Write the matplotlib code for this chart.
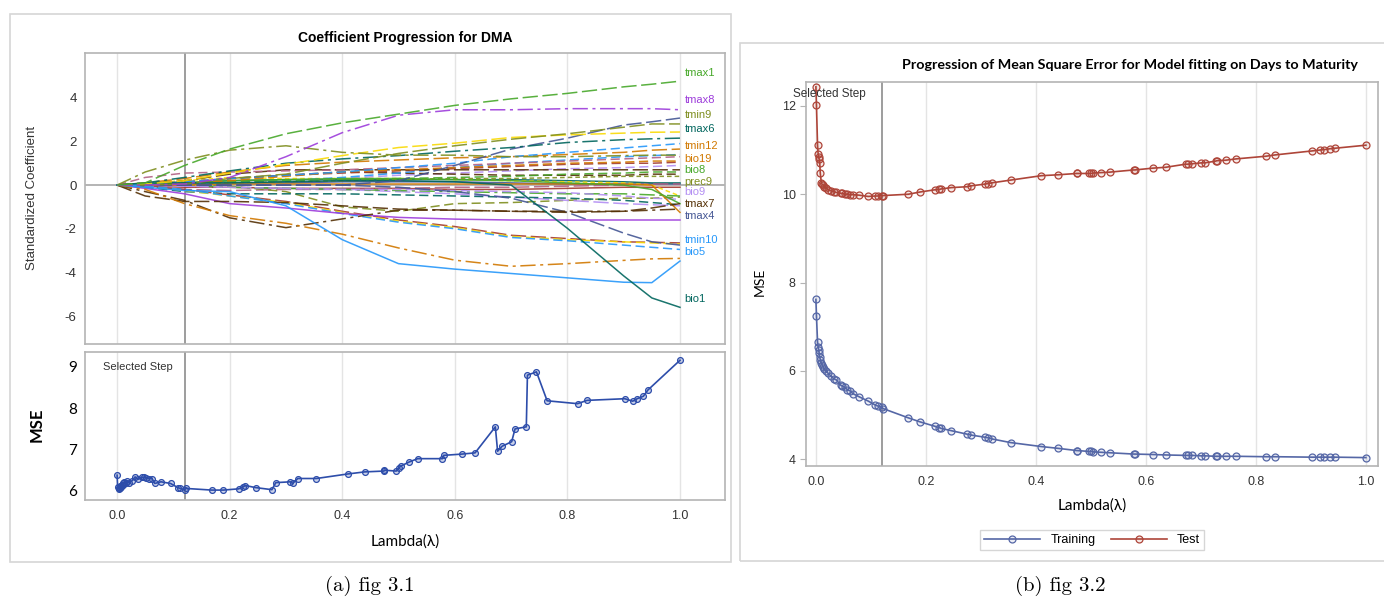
"""Two LASSO diagnostics side by side: coefficient paths + MSE for DMA (a),
training/test MSE progression for days to maturity (b)."""

import matplotlib

matplotlib.use("Agg")
import matplotlib.pyplot as plt
from matplotlib.patches import Rectangle

plt.rcParams["axes.unicode_minus"] = False

W, H = 1384, 601

# ---- shared lambda grid of the selection path --------------------------------
lambdas = [
    0.0, 0.001, 0.003, 0.004, 0.005, 0.006, 0.007, 0.008, 0.010, 0.011,
    0.013, 0.015, 0.018, 0.022, 0.027, 0.032, 0.037, 0.045, 0.048, 0.052,
    0.057, 0.062, 0.067, 0.078, 0.095, 0.108, 0.112, 0.120, 0.122, 0.168,
    0.189, 0.216, 0.224, 0.228, 0.246, 0.275, 0.282, 0.308, 0.312, 0.321,
    0.354, 0.410, 0.440, 0.474, 0.475, 0.496, 0.500, 0.504, 0.519, 0.534,
    0.578, 0.580, 0.612, 0.636, 0.672, 0.676, 0.684, 0.701, 0.707, 0.727,
    0.729, 0.745, 0.764, 0.818, 0.835, 0.902, 0.916, 0.924, 0.935, 0.943,
    1.0,
]

dma_mse = [
    6.38, 6.10, 6.08, 6.05, 6.12, 6.06, 6.10, 6.15, 6.20, 6.15,
    6.22, 6.20, 6.23, 6.20, 6.25, 6.34, 6.28, 6.33, 6.33, 6.32,
    6.30, 6.30, 6.18, 6.22, 6.18, 6.08, 6.06, 6.03, 6.06, 6.02,
    6.02, 6.05, 6.10, 6.13, 6.08, 6.03, 6.20, 6.22, 6.18, 6.30,
    6.30, 6.41, 6.46, 6.48, 6.50, 6.48, 6.55, 6.60, 6.70, 6.78,
    6.78, 6.86, 6.89, 6.92, 7.55, 6.96, 7.08, 7.19, 7.50, 7.55,
    8.80, 8.88, 8.18, 8.11, 8.19, 8.23, 8.17, 8.23, 8.29, 8.44,
    9.16,
]

train_mse = [
    7.62, 7.25, 6.66, 6.55, 6.48, 6.40, 6.31, 6.26, 6.17, 6.14,
    6.10, 6.05, 6.01, 5.95, 5.89, 5.83, 5.80, 5.68, 5.66, 5.63,
    5.58, 5.55, 5.49, 5.42, 5.32, 5.23, 5.21, 5.18, 5.15, 4.94,
    4.85, 4.75, 4.72, 4.70, 4.65, 4.57, 4.55, 4.50, 4.49, 4.46,
    4.38, 4.29, 4.25, 4.20, 4.20, 4.18, 4.18, 4.17, 4.16, 4.15,
    4.12, 4.12, 4.11, 4.10, 4.09, 4.09, 4.09, 4.08, 4.08, 4.07,
    4.07, 4.07, 4.07, 4.06, 4.06, 4.05, 4.05, 4.05, 4.05, 4.05,
    4.04,
]

test_mse = [
    12.43, 12.02, 11.11, 10.92, 10.85, 10.79, 10.70, 10.47, 10.25, 10.23,
    10.21, 10.17, 10.14, 10.10, 10.08, 10.06, 10.04, 10.02, 10.02, 10.00,
    10.00, 9.99, 9.99, 9.98, 9.95, 9.96, 9.96, 9.97, 9.97, 10.00,
    10.05, 10.10, 10.11, 10.12, 10.15, 10.17, 10.19, 10.23, 10.24, 10.26,
    10.32, 10.42, 10.44, 10.47, 10.47, 10.47, 10.47, 10.48, 10.49, 10.50,
    10.55, 10.55, 10.59, 10.61, 10.68, 10.68, 10.69, 10.71, 10.71, 10.75,
    10.76, 10.77, 10.80, 10.86, 10.89, 10.98, 11.00, 11.01, 11.03, 11.04,
    11.11,
]

selected_lambda = 0.12

# ---- coefficient paths, read at these lambda knots -----------------------------
knots = [0, 0.05, 0.12, 0.2, 0.3, 0.4, 0.5, 0.6, 0.7, 0.8, 0.9, 0.95, 1.0]

coef_tmax1 = [0, 0.1, 0.9, 1.65, 2.35, 2.85, 3.25, 3.65, 3.95, 4.2, 4.5, 4.62, 4.76]
coef_tmax8 = [0, 0, 0.05, 0.35, 1.3, 2.4, 3.2, 3.45, 3.45, 3.5, 3.5, 3.5, 3.45]
coef_v03 = [0, 0.6, 1.14, 1.6, 1.8, 1.5, 1.37, 1.37, 1.3, 1.3, 1.35, 1.37, 1.37]
coef_tmin9 = [0, 0, 0.05, 0.3, 0.5, 1.0, 1.45, 1.8, 2.1, 2.35, 2.65, 2.8, 2.8]
coef_v05 = [0, 0.05, 0.2, 0.55, 0.95, 1.35, 1.72, 1.92, 2.18, 2.3, 2.38, 2.42, 2.43]
coef_tmax6 = [0, 0.1, 0.35, 0.65, 1.0, 1.2, 1.35, 1.55, 1.72, 1.95, 2.08, 2.12, 2.15]
coef_v07 = [0, 0, 0, 0, 0, 0, 0.2, 0.9, 1.65, 2.15, 2.75, 2.9, 3.07]
coef_bio1 = [0, 0.1, 0.1, 0.1, 0.15, 0.2, 0.2, 0.15, 0.0, -1.98, -4.16, -5.17, -5.6]
coef_bio5 = [0, -0.1, -0.25, -0.3, -0.95, -2.5, -3.6, -3.85, -4.05, -4.25, -4.45, -4.47, -3.48]
coef_v10 = [0, -0.2, -0.85, -1.4, -1.75, -2.25, -2.88, -3.44, -3.72, -3.6, -3.45, -3.38, -3.36]
coef_v11 = [0, -0.3, -0.7, -1.5, -1.95, -1.55, -1.15, -1.15, -1.2, -1.2, -1.2, -1.15, -1.1]
coef_tmax7 = [0, -0.5, -0.75, -0.75, -0.8, -0.95, -1.1, -1.15, -1.2, -1.25, -1.2, -1.05, -0.85]
coef_v13 = [0, -0.15, -0.4, -0.85, -1.05, -1.3, -1.48, -1.56, -1.6, -1.6, -1.6, -1.6, -1.6]
coef_v14 = [0, -0.05, -0.2, -0.45, -0.75, -1.2, -1.6, -1.9, -2.3, -2.45, -2.6, -2.62, -2.65]
coef_v15 = [0, -0.05, -0.25, -0.5, -0.8, -1.25, -1.65, -1.95, -2.35, -2.5, -2.6, -2.65, -2.7]
coef_tmin10 = [0, -0.05, -0.2, -0.5, -0.85, -1.3, -1.7, -2.0, -2.4, -2.55, -2.75, -2.85, -2.95]
coef_tmax4 = [0, 0, 0, 0, 0, 0, -0.1, -0.3, -0.6, -1.25, -2.2, -2.6, -2.75]
coef_v18 = [0, 0.05, 0.15, 0.3, 0.45, 0.6, 0.8, 1.0, 1.3, 1.5, 1.7, 1.8, 1.9]
coef_tmin12 = [0, 0.1, 0.3, 0.6, 0.9, 1.05, 1.15, 1.25, 1.3, 1.4, 1.5, 1.6, 1.65]
coef_v20 = [0, 0.35, 0.55, 0.6, 0.65, 0.7, 0.8, 0.9, 1.0, 1.1, 1.2, 1.25, 1.3]
coef_bio19 = [0, 0.05, 0.1, 0.2, 0.4, 0.6, 0.7, 0.8, 0.9, 1.0, 1.05, 1.1, 1.1]
coef_v22 = [0, 0.05, 0.2, 0.5, 0.7, 0.7, 0.7, 0.7, 0.7, 0.7, 0.7, 0.7, 0.7]
coef_bio8 = [0, 0.05, 0.1, 0.15, 0.2, 0.25, 0.3, 0.35, 0.4, 0.5, 0.55, 0.6, 0.6]
coef_prec9 = [0, 0.02, 0.05, 0.1, 0.15, 0.2, 0.25, 0.3, 0.3, 0.35, 0.4, 0.4, 0.4]
coef_bio9 = [0, 0, -0.05, -0.1, -0.15, -0.2, -0.2, -0.25, -0.3, -0.35, -0.5, -0.6, -0.65]
coef_v26 = [0, -0.1, -0.3, -0.4, -0.4, -0.4, -0.45, -0.5, -0.55, -0.6, -0.7, -0.8, -0.9]
coef_v27 = [0, 0, 0, 0.05, 0.05, 0.05, 0.05, 0.05, 0.05, 0.05, 0.05, 0, -1.25]
coef_v28 = [0, 0.05, 0.1, 0.2, 0.25, 0.3, 0.3, 0.25, 0.2, 0.1, 0, -0.2, -0.85]
coef_v29 = [0, -0.05, -0.1, -0.1, -0.15, -0.15, -0.15, -0.2, -0.2, -0.15, -0.1, -0.1, -0.1]
coef_v30 = [0, 0.05, 0.05, 0.1, 0.1, 0.15, 0.15, 0.15, 0.1, 0.05, 0.05, 0.05, 0.05]
coef_v31 = [0, 0.05, 0.1, 0.2, 0.25, 0.25, 0.25, 0.25, 0.25, 0.2, 0.15, 0.1, 0.1]
coef_v32 = [0, -0.1, -0.2, -0.25, -0.2, -0.2, -0.15, -0.1, -0.1, -0.05, 0, 0.05, 0.05]
coef_v33 = [0, 0.02, 0.05, 0.1, 0.2, 0.3, 0.45, 0.55, 0.65, 0.75, 0.8, 0.85, 0.9]
coef_v34 = [0, 0.1, 0.2, 0.35, 0.3, 0.3, 0.3, 0.25, 0.2, 0.15, 0.1, 0.0, -0.5]
coef_v35 = [0, 0.05, 0.1, 0.3, 0.45, 0.6, 0.55, 0.5, 0.45, 0.45, 0.45, 0.5, 0.5]
coef_v36 = [0, 0, 0, -0.05, -0.3, -1.0, -1.2, -0.85, -0.8, -0.7, -0.6, -0.6, -0.55]
coef_v37 = [0, 0, -0.05, -0.1, -0.15, -0.2, -0.3, -0.4, -0.55, -0.7, -0.85, -0.9, -0.95]
coef_v38 = [0, 0, 0.05, 0.1, 0.2, 0.35, 0.55, 0.8, 1.0, 1.15, 1.3, 1.35, 1.4]
coef_v39 = [0, 0.05, 0.15, 0.3, 0.45, 0.55, 0.65, 0.75, 0.85, 0.95, 1.0, 1.0, 1.05]
coef_v40 = [0, 0, 0, -0.1, -0.15, -0.2, -0.25, -0.3, -0.35, -0.4, -0.4, -0.45, -0.5]

end_labels = ["tmax1", "tmax8", "tmin9", "tmax6", "tmin12", "bio19", "bio8",
              "prec9", "bio9", "tmax7", "tmax4", "tmin10", "bio5", "bio1"]
end_label_y = [5.13, 3.89, 3.21, 2.56, 1.79, 1.18, 0.68,
               0.16, -0.32, -0.86, -1.40, -2.52, -3.07, -5.22]

# SAS-style palette and line patterns
BLUE, RED, TEAL, BROWN = "#445694", "#A23A2E", "#01665E", "#543005"
PURPLE, OLIVE, LTBLUE, PINK = "#9D3CDB", "#7F8E1F", "#2597FA", "#B26084"
ORANGE, GREEN, LAVENDER, YELLOW = "#D17800", "#47A82A", "#B38EF3", "#F9DA04"

SOLID = "-"
SHORT = (0, (3, 2))
MEDIUM = (0, (6, 3))
LONG = (0, (10, 3))
DASHDOT = (0, (10, 3, 2, 3))

end_label_colors = [GREEN, PURPLE, OLIVE, TEAL, ORANGE, ORANGE, GREEN,
                    OLIVE, LAVENDER, BROWN, BLUE, LTBLUE, LTBLUE, TEAL]

paths = [
    (coef_v29, RED, SOLID), (coef_v30, BLUE, SOLID), (coef_v31, TEAL, SOLID),
    (coef_v32, PINK, LONG), (coef_v33, LAVENDER, MEDIUM), (coef_v34, YELLOW, SHORT),
    (coef_v35, BROWN, MEDIUM), (coef_v36, OLIVE, MEDIUM), (coef_v37, LAVENDER, LONG),
    (coef_v38, LTBLUE, MEDIUM), (coef_v39, RED, MEDIUM), (coef_v40, GREEN, DASHDOT),
    (coef_prec9, OLIVE, SHORT), (coef_bio8, GREEN, MEDIUM), (coef_bio9, LAVENDER, MEDIUM),
    (coef_v26, TEAL, MEDIUM), (coef_v27, ORANGE, SOLID), (coef_v28, GREEN, SOLID),
    (coef_v22, BROWN, LONG), (coef_bio19, ORANGE, MEDIUM), (coef_v20, PINK, MEDIUM),
    (coef_tmin12, ORANGE, LONG), (coef_v18, LTBLUE, MEDIUM),
    (coef_v14, RED, LONG), (coef_v15, YELLOW, MEDIUM), (coef_tmin10, LTBLUE, MEDIUM),
    (coef_tmax4, BLUE, LONG), (coef_v13, PURPLE, SOLID), (coef_tmax7, BROWN, LONG),
    (coef_v11, BROWN, DASHDOT), (coef_v10, ORANGE, DASHDOT), (coef_bio5, LTBLUE, SOLID),
    (coef_bio1, TEAL, SOLID), (coef_v07, BLUE, LONG), (coef_tmax6, TEAL, DASHDOT),
    (coef_v05, YELLOW, LONG), (coef_tmin9, OLIVE, LONG), (coef_v03, OLIVE, DASHDOT),
    (coef_tmax8, PURPLE, DASHDOT), (coef_tmax1, GREEN, LONG),
]

FRAME = "#B4B4B4"
GRID = "#E4E4E4"
SEL = "#8C8C8C"
SANS = ["Liberation Sans", "DejaVu Sans"]
CAL = ["Lato", "DejaVu Sans"]


def fig_box(x0, y0, x1, y1):
    return [x0 / W, 1 - y1 / H, (x1 - x0) / W, (y1 - y0) / H]


def style_axes(ax):
    for sp in ax.spines.values():
        sp.set_color(FRAME)
        sp.set_linewidth(1.2)
    for x in [0.0, 0.2, 0.4, 0.6, 0.8, 1.0]:
        ax.axvline(x, color=GRID, lw=1.0, zorder=0)


fig = plt.figure(figsize=(W / 100, H / 100), dpi=100)

# panel frames
fig.patches.append(Rectangle((10 / W, 1 - 562 / H), 721 / W, 548 / H, transform=fig.transFigure,
                             fill=False, edgecolor="#D6D6D6", lw=1.2))
fig.patches.append(Rectangle((740 / W, 1 - 561 / H), 660 / W, 518 / H, transform=fig.transFigure,
                             fill=False, edgecolor="#D6D6D6", lw=1.2))

# ---- (a) coefficient progression ------------------------------------------------
ax1 = fig.add_axes(fig_box(85, 53, 725, 344))
style_axes(ax1)
ax1.axhline(0, color="#A8A8A8", lw=1.2, zorder=1)
ax1.axvline(selected_lambda, color=SEL, lw=1.2, zorder=1)
for vals, color, ls in paths:
    ax1.plot(knots, vals, color=color, ls=ls, lw=1.1, alpha=0.9, zorder=2)
for name, y, color in zip(end_labels, end_label_y, end_label_colors):
    ax1.text(1.008, y, name, color=color, fontsize=8, family=SANS, va="center", ha="left")
ax1.set_xlim(-0.057, 1.08)
ax1.set_ylim(-7.28, 6.05)
ax1.set_xticks([])
ax1.set_yticks([4, 2, 0, -2, -4, -6])
ax1.tick_params(axis="y", length=0, labelsize=9.5, labelcolor="#333333", pad=6)
for lab in ax1.get_yticklabels():
    lab.set_family(SANS)
ax1.set_title("Coefficient Progression for DMA", fontsize=10, fontweight="bold",
              family=SANS, pad=8)
fig.text(32 / W, 1 - 198 / H, "Standardized Coefficient", rotation=90, fontsize=9.5,
         family=SANS, color="#333333", ha="center", va="center")

ax2 = fig.add_axes(fig_box(85, 352, 725, 500))
style_axes(ax2)
ax2.axvline(selected_lambda, color=SEL, lw=1.2, zorder=1)
ax2.plot(lambdas, dma_mse, color="#2D4DAA", lw=1.2, marker="o", ms=4.2,
         mfc=(0.18, 0.30, 0.67, 0.25), mec="#2D4DAA", mew=0.9, zorder=3)
ax2.text(0.028, 0.93, "Selected Step", transform=ax2.transAxes, fontsize=8,
         family=SANS, color="#333333", va="top")
ax2.set_xlim(-0.057, 1.08)
ax2.set_ylim(5.78, 9.36)
ax2.set_yticks([6, 7, 8, 9])
ax2.set_xticks([0.0, 0.2, 0.4, 0.6, 0.8, 1.0])
ax2.set_xticklabels(["0.0", "0.2", "0.4", "0.6", "0.8", "1.0"])
ax2.tick_params(axis="x", length=0, labelsize=9, labelcolor="#333333", pad=7)
ax2.tick_params(axis="y", length=0, labelsize=11, pad=6)
for lab in ax2.get_xticklabels():
    lab.set_family(SANS)
for lab in ax2.get_yticklabels():
    lab.set_family(CAL)
ax2.set_xlabel("Lambda(λ)", fontsize=11, family=CAL, labelpad=9)
fig.text(37 / W, 1 - 425 / H, "MSE", rotation=90, fontsize=12, fontweight="bold",
         family=CAL, ha="center", va="center")

# ---- (b) MSE progression ---------------------------------------------------------
ax3 = fig.add_axes(fig_box(806, 82, 1378, 466))
style_axes(ax3)
ax3.axvline(selected_lambda, color=SEL, lw=1.2, zorder=1)
ax3.plot(lambdas, train_mse, color="#5567A6", lw=1.2, marker="o", ms=5.0,
         mfc=(0.33, 0.40, 0.65, 0.12), mec="#5567A6", mew=0.9, zorder=3, label="Training")
ax3.plot(lambdas, test_mse, color="#AE4539", lw=1.2, marker="o", ms=5.0,
         mfc=(0.68, 0.27, 0.22, 0.12), mec="#AE4539", mew=0.9, zorder=3, label="Test")
ax3.text(-0.022, 0.985, "Selected Step", transform=ax3.transAxes, fontsize=8.5,
         family=SANS, color="#333333", va="top")
ax3.set_xlim(-0.018, 1.022)
ax3.set_ylim(3.85, 12.54)
ax3.set_yticks([4, 6, 8, 10, 12])
ax3.set_xticks([0.0, 0.2, 0.4, 0.6, 0.8, 1.0])
ax3.set_xticklabels(["0.0", "0.2", "0.4", "0.6", "0.8", "1.0"])
ax3.tick_params(axis="x", length=0, labelsize=9, labelcolor="#333333", pad=7)
ax3.tick_params(axis="y", length=4, color=FRAME, labelsize=9, labelcolor="#333333")
for lab in ax3.get_xticklabels() + ax3.get_yticklabels():
    lab.set_family(SANS)
ax3.set_xlabel("Lambda(λ)", fontsize=11, family=CAL, labelpad=8)
fig.text(1130 / W, 1 - 65 / H,
         "Progression of Mean Square Error for Model fitting on Days to Maturity",
         fontsize=10.3, fontweight="bold", family=CAL, ha="center", va="center")
fig.text(760 / W, 1 - 282 / H, "MSE", rotation=90, fontsize=10, family=CAL,
         ha="center", va="center")
fig.legend(*ax3.get_legend_handles_labels(), loc="center",
           bbox_to_anchor=(1092 / W, 1 - 540 / H), ncol=2, frameon=True, fancybox=False,
           edgecolor="#CCCCCC", handlelength=4.5, columnspacing=1.2,
           borderpad=0.35, prop={"family": SANS, "size": 9})

# ---- captions --------------------------------------------------------------------
fig.text(370 / W, 1 - 586 / H, "(a) fig 3.1", family="cmr10", fontsize=15,
         ha="center", va="center")
fig.text(1060 / W, 1 - 586 / H, "(b) fig 3.2", family="cmr10", fontsize=15,
         ha="center", va="center")

fig.savefig("out.png", dpi=100)
